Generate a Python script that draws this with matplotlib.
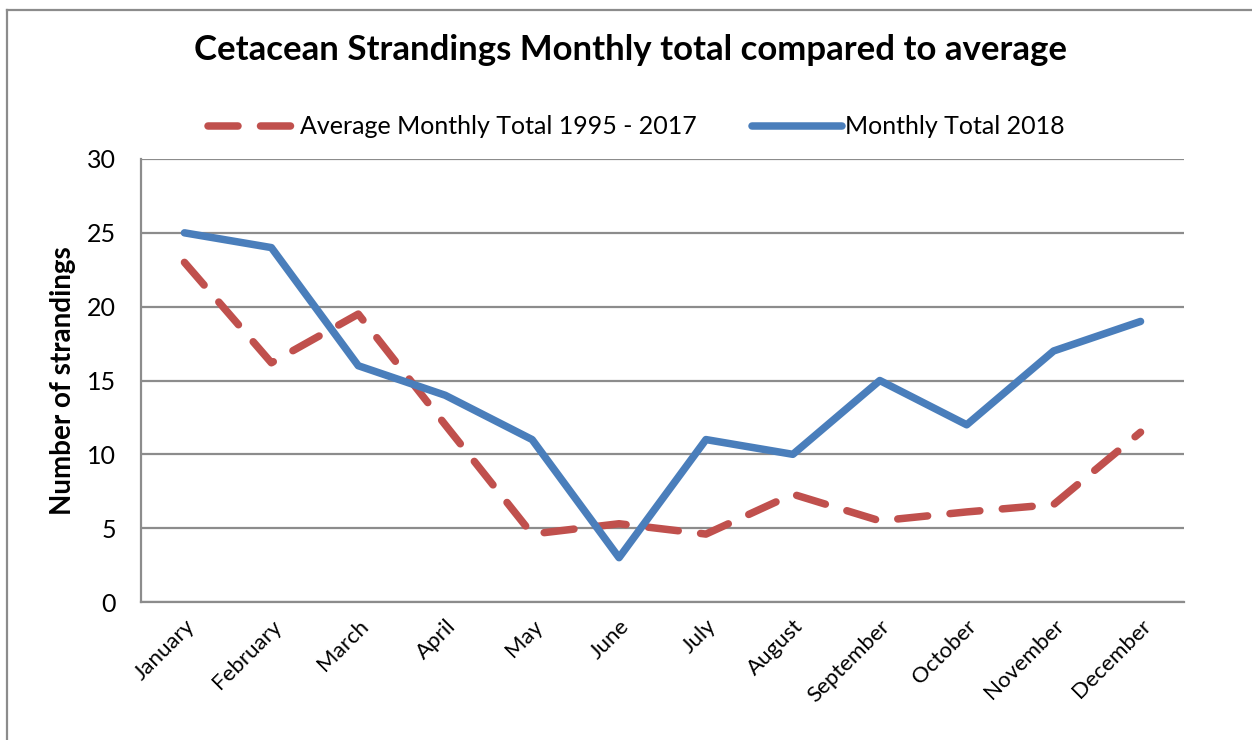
import matplotlib.pyplot as plt
from matplotlib.lines import Line2D

# data
months = ["January", "February", "March", "April", "May", "June",
          "July", "August", "September", "October", "November", "December"]
avg_1995_2017 = [23.0, 16.2, 19.5, 12.0, 4.6, 5.3, 4.6, 7.3, 5.5, 6.1, 6.6, 11.5]
total_2018 = [25, 24, 16, 14, 11, 3, 11, 10, 15, 12, 17, 19]
yticks = [0, 5, 10, 15, 20, 25, 30]

plt.rcParams['font.family'] = ['Lato', 'DejaVu Sans']

red = "#C0504D"
blue = "#4A7EBB"
grid_grey = "#8C8C8C"

fig = plt.figure(figsize=(12.52, 7.40), dpi=100)
ax = fig.add_axes([141 / 1252, 1 - 602 / 740, (1184 - 141) / 1252, (602 - 159) / 740])

x = list(range(len(months)))
ax.plot(x, avg_1995_2017, color=red, lw=5.4, dashes=(4.0, 3.0),
        dash_capstyle='round', solid_joinstyle='round',
        label="Average Monthly Total 1995 - 2017")
ax.plot(x, total_2018, color=blue, lw=5.4, solid_joinstyle='round',
        solid_capstyle='round', label="Monthly Total 2018")

ax.set_xlim(-0.5, len(months) - 0.5)
ax.set_ylim(0, 30)
ax.set_yticks(yticks)
ax.set_xticks(x)
ax.set_xticklabels(months, rotation=45, ha='right', rotation_mode='anchor', fontsize=16)
ax.tick_params(axis='y', length=0, labelsize=18, pad=18)
ax.tick_params(axis='x', length=0, pad=10)
ax.yaxis.grid(True, color=grid_grey, lw=1.6)
ax.set_axisbelow(True)
for s in ['top', 'right']:
    ax.spines[s].set_visible(False)
for s in ['left', 'bottom']:
    ax.spines[s].set_color(grid_grey)
    ax.spines[s].set_linewidth(1.6)

ax.set_ylabel("Number of strandings", fontsize=20, fontweight='bold', labelpad=8)

fig.text(630 / 1252, 1 - 50 / 740, "Cetacean Strandings Monthly total compared to average",
         ha='center', va='center', fontsize=25, fontweight='bold')

handles = [
    Line2D([0], [0], color=red, lw=5.4, dashes=(4.0, 3.0), dash_capstyle='round'),
    Line2D([0], [0], color=blue, lw=5.4, solid_capstyle='round'),
]
fig.legend(handles, ["Average Monthly Total 1995 - 2017", "Monthly Total 2018"],
           loc='center', bbox_to_anchor=(636 / 1252, 1 - 127 / 740), ncol=2,
           frameon=False, fontsize=18, handlelength=3.6, handletextpad=0.1,
           columnspacing=2.2)

# chart border (top and left edges visible)
fig.add_artist(Line2D([7 / 1252, 7 / 1252], [0, 1 - 10 / 740], color="#8C8C8C", lw=1.6,
                      transform=fig.transFigure))
fig.add_artist(Line2D([7 / 1252, 1], [1 - 10 / 740, 1 - 10 / 740], color="#8C8C8C", lw=1.6,
                      transform=fig.transFigure))

fig.savefig("out.png", dpi=100)
